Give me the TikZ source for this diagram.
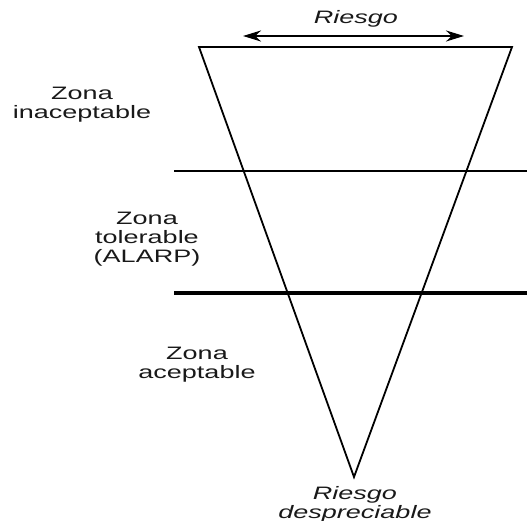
\documentclass[tikz,border=0pt]{standalone}
\usepackage{fontspec}
\setmainfont[FakeStretch=1.5]{Liberation Sans}
\usetikzlibrary{arrows.meta}
\begin{document}
\begin{tikzpicture}[x=1pt,y=-1pt,
  lbl/.style={font=\fontsize{18}{19}\selectfont, align=center, inner sep=0pt, text=black!90},
  ilbl/.style={lbl, font=\fontsize{18}{19}\selectfont\itshape},
  edge/.style={line width=1.8pt, line join=miter},
  zline/.style={line width=2.5pt},
  zlinethick/.style={line width=3.4pt},
  riskarrow/.style={line width=2.4pt, {Stealth[length=18pt,width=11pt]}-{Stealth[length=18pt,width=11pt]}}]
\useasboundingbox (0,0) rectangle (527,521);
\coordinate (tl) at (199,47);
\coordinate (tr) at (512,47);
\coordinate (ap) at (354,477);
\draw[edge] (tl) -- (tr) -- (ap) -- cycle;
\coordinate (l1a) at (174,171);
\coordinate (l1b) at (527,171);
\draw[zline] (l1a) -- (l1b);
\coordinate (l2a) at (174,293);
\coordinate (l2b) at (527,293);
\draw[zlinethick] (l2a) -- (l2b);
\coordinate (aL) at (243,36);
\coordinate (aR) at (464,36);
\draw[riskarrow] (aL) -- (aR);
\node[ilbl] (riesgo) at (356,19) {Riesgo};
\node[lbl] (inacep) at (82,105) {Zona\\inaceptable};
\node[lbl] (toler) at (147,239) {Zona\\tolerable\\(ALARP)};
\node[lbl] (acep) at (197,365) {Zona\\aceptable};
\node[ilbl] (despr) at (355,504) {Riesgo\\despreciable};
\end{tikzpicture}
\end{document}
